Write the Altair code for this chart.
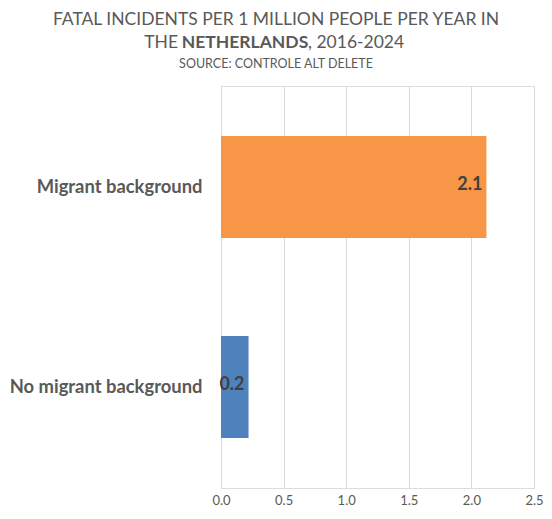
import altair as alt
import pandas as pd

categories = ["Migrant background", "No migrant background"]
values = [2.12, 0.22]
labels = ["2.1", "0.2"]
colors = ["#F79646", "#4F81BD"]
x_ticks = [0, 0.5, 1.0, 1.5, 2.0, 2.5]

title_line1 = "FATAL INCIDENTS PER 1 MILLION PEOPLE PER YEAR IN"
title_line2_a = "THE"
title_line2_b = "NETHERLANDS"
title_line2_c = ", 2016-2024"
subtitle = "SOURCE: CONTROLE ALT DELETE"

FONT = "Lato"
GRAY = "#595959"

df = pd.DataFrame({"cat": categories, "val": values, "lab": labels})

W, H = 313, 402
PL, PT = 213, 78

base = alt.Chart(df)

bars = base.mark_bar().encode(
    y=alt.Y("cat:N", sort=categories, title=None,
            scale=alt.Scale(paddingInner=0.49, paddingOuter=0.25),
            axis=alt.Axis(labelFont=FONT, labelFontWeight="bold", labelFontSize=18.4,
                          labelColor=GRAY, domain=False, ticks=False, labelPadding=19,
                          labelLimit=300)),
    x=alt.X("val:Q", title=None,
            scale=alt.Scale(domain=[0, 2.5], nice=False),
            axis=alt.Axis(values=x_ticks, format=".1f", labelFont=FONT, labelFontSize=13,
                          labelColor=GRAY, domain=False, ticks=False, labelPadding=6,
                          labelFlush=False,
                          grid=True, gridColor="#D9D9D9", gridWidth=1)),
    color=alt.Color("cat:N", scale=alt.Scale(domain=categories, range=colors), legend=None),
)

texts = base.mark_text(align="right", baseline="middle", dx=-4, dy=-2, font=FONT,
                       fontWeight="bold", fontSize=18, color="#404040").encode(
    y=alt.Y("cat:N", sort=categories),
    x=alt.X("val:Q"),
    text="lab:N",
)

tdf = pd.DataFrame({"d": [0]})
ox = PL + 8
oy = PT + 8
cx = 276 - ox
nb_center = 245 - ox
nb_half = 62
t1 = alt.Chart(tdf).mark_text(text=title_line1, font=FONT, fontSize=17.5, color=GRAY,
                              align="center", baseline="middle").encode(
    x=alt.value(cx), y=alt.value(19.5 - oy))
t2a = alt.Chart(tdf).mark_text(text=title_line2_a, font=FONT, fontSize=17.5, color=GRAY,
                               align="right", baseline="middle").encode(
    x=alt.value(nb_center - nb_half - 5), y=alt.value(43 - oy))
t2b = alt.Chart(tdf).mark_text(text=title_line2_b, font=FONT, fontSize=17.5, color=GRAY,
                               fontWeight="bold", align="center", baseline="middle").encode(
    x=alt.value(nb_center), y=alt.value(43 - oy))
t2c = alt.Chart(tdf).mark_text(text=title_line2_c, font=FONT, fontSize=17.5, color=GRAY,
                               align="left", baseline="middle").encode(
    x=alt.value(nb_center + nb_half + 1), y=alt.value(43 - oy))
t3 = alt.Chart(tdf).mark_text(text=subtitle, font=FONT, fontSize=12.5, color=GRAY,
                              align="center", baseline="middle").encode(
    x=alt.value(cx), y=alt.value(63.5 - oy))

chart = alt.layer(bars, texts, t1, t2a, t2b, t2c, t3).properties(
    width=W, height=H,
    autosize=alt.AutoSizeParams(type="none"),
    padding={"left": PL, "top": PT, "right": 10, "bottom": 19},
).configure_view(stroke=None).configure(background="white")

chart.save("out.html", embed_options={"renderer": "svg", "actions": False})
